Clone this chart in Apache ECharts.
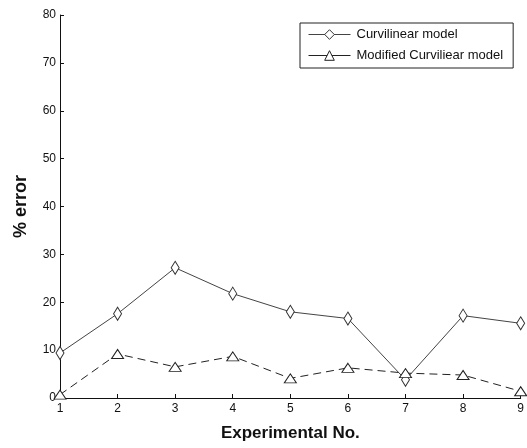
<!DOCTYPE html>
<html>
<head>
<meta charset="utf-8">
<script src="https://cdn.jsdelivr.net/npm/echarts@6/dist/echarts.min.js"></script>
<style>
html, body { margin: 0; padding: 0; background: #fff; }
#main { width: 527px; height: 448px; }
</style>
</head>
<body>
<div id="main"></div>
<script>
// experiment numbers on the x axis
var experiments = ['1', '2', '3', '4', '5', '6', '7', '8', '9'];
// % error
var curvilinear = [9.4, 17.6, 27.2, 21.8, 18.0, 16.6, 3.8, 17.2, 15.6];
var modifiedCurvilinear = [0.7, 9.2, 6.5, 8.7, 4.1, 6.3, 5.2, 4.8, 1.4];

var font = 'Liberation Sans, Arial, sans-serif';

var option = {
    backgroundColor: '#fff',
    animation: false,
    grid: {
        left: 60,
        right: 4,
        top: 15,
        bottom: 50
    },
    legend: {
        orient: 'vertical',
        left: 300,
        top: 23,
        width: 215,
        padding: [5, 10, 6, 8],
        itemGap: 8,
        itemWidth: 42,
        itemHeight: 12,
        borderColor: '#222',
        borderWidth: 1,
        backgroundColor: '#fff',
        lineStyle: { width: 1, type: 'solid' },
        itemStyle: { borderWidth: 1 },
        textStyle: { fontFamily: font, fontSize: 13, color: '#111', padding: [0, 0, 0, 1] },
        data: ['Curvilinear model', 'Modified Curviliear model']
    },
    xAxis: {
        type: 'category',
        boundaryGap: false,
        data: experiments,
        name: 'Experimental No.',
        nameLocation: 'middle',
        nameGap: 27,
        nameTextStyle: { fontFamily: font, fontSize: 17, fontWeight: 'bold', color: '#111' },
        axisLine: { lineStyle: { color: '#111', width: 1 } },
        axisTick: { inside: true, length: 4, lineStyle: { color: '#111' } },
        axisLabel: { fontFamily: font, fontSize: 12, color: '#111', margin: 5 },
        splitLine: { show: false }
    },
    yAxis: {
        type: 'value',
        min: 0,
        max: 80,
        interval: 10,
        name: '% error',
        nameLocation: 'middle',
        nameGap: 30,
        nameTextStyle: { fontFamily: font, fontSize: 18, fontWeight: 'bold', color: '#111' },
        axisLine: { show: true, lineStyle: { color: '#111', width: 1 } },
        axisTick: { show: true, inside: true, length: 4, lineStyle: { color: '#111' } },
        axisLabel: { fontFamily: font, fontSize: 12, color: '#111', margin: 4 },
        splitLine: { show: false }
    },
    series: [
        {
            name: 'Curvilinear model',
            type: 'line',
            data: curvilinear,
            symbol: 'diamond',
            symbolSize: [8, 13],
            showAllSymbol: true,
            itemStyle: { color: '#fff', borderColor: '#333', borderWidth: 1 },
            lineStyle: { color: '#444', width: 1, type: 'solid' }
        },
        {
            name: 'Modified Curviliear model',
            type: 'line',
            data: modifiedCurvilinear,
            symbol: 'triangle',
            symbolSize: [12, 9],
            showAllSymbol: true,
            itemStyle: { color: '#fff', borderColor: '#222', borderWidth: 1 },
            lineStyle: { color: '#222', width: 1, type: [8, 5] }
        }
    ]
};

var myChart = echarts.init(document.getElementById('main'));
myChart.setOption(option);
</script>
</body>
</html>
